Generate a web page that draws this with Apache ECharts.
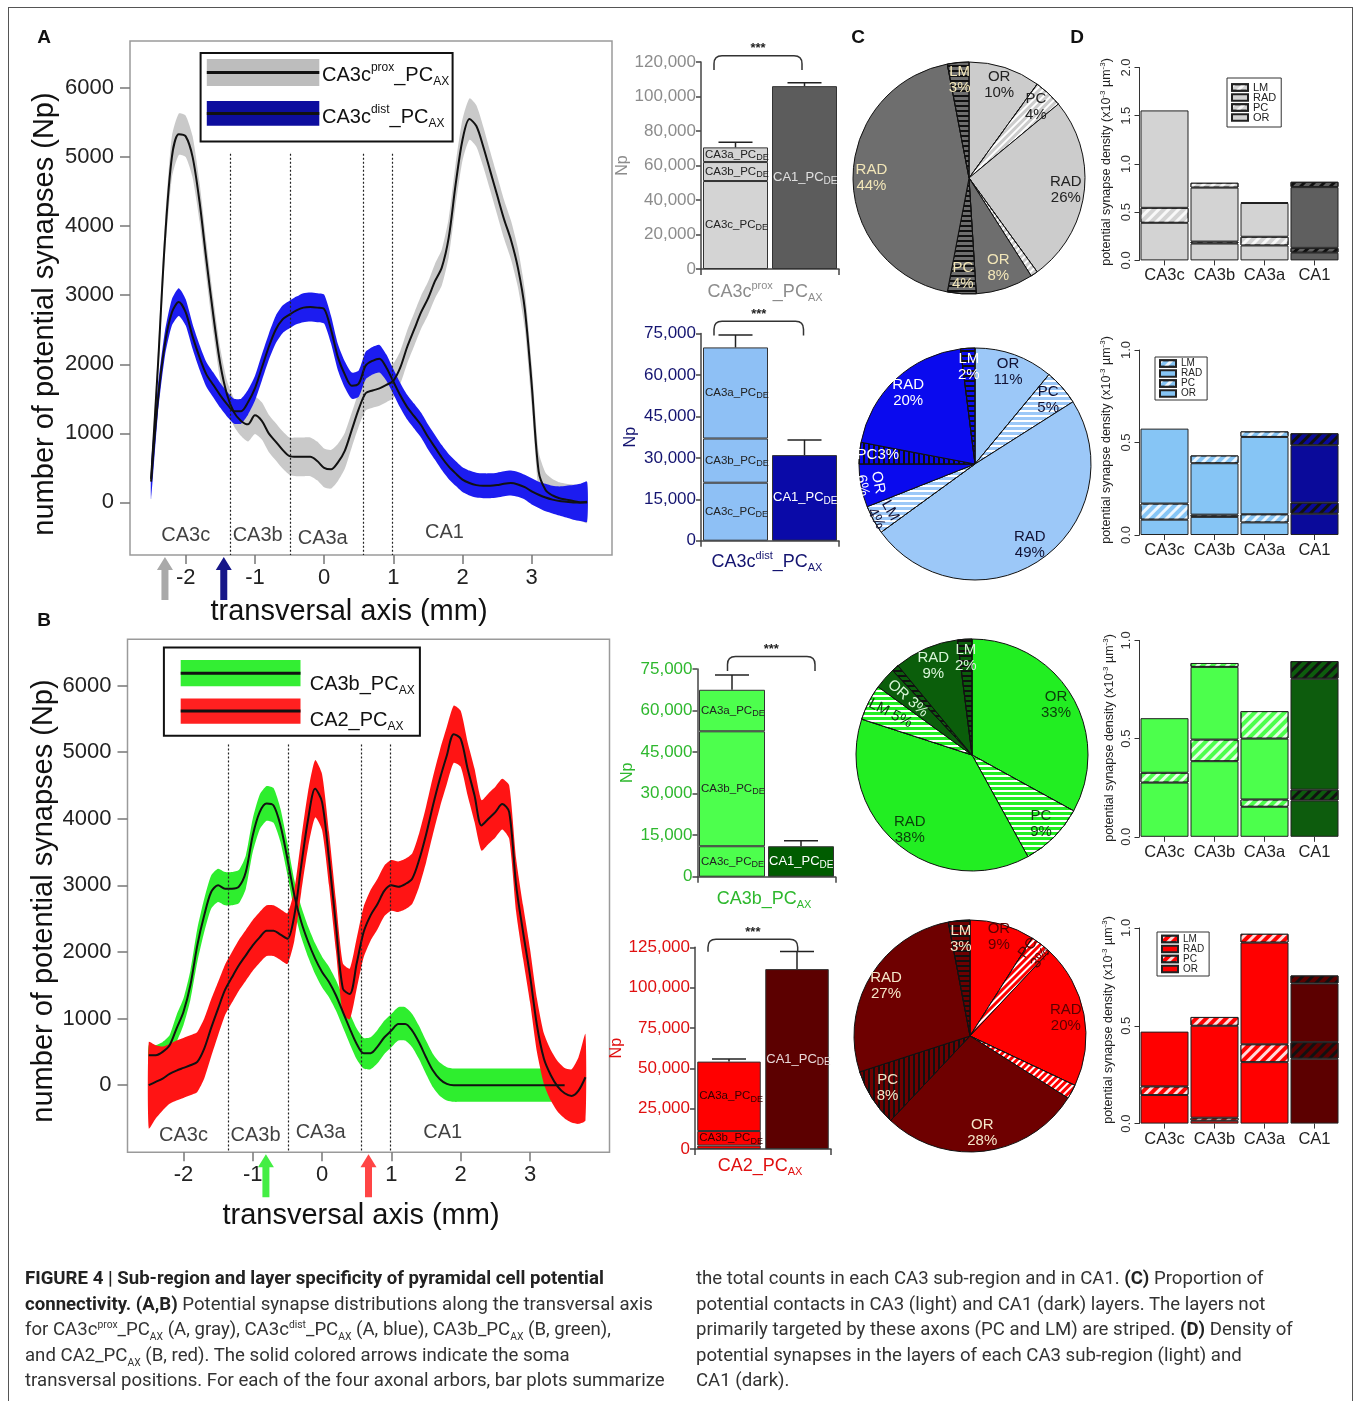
<!DOCTYPE html>
<html>
<head>
<meta charset="utf-8">
<script src="https://cdn.jsdelivr.net/npm/echarts@6/dist/echarts.min.js"></script>
<style>
  html, body { margin: 0; padding: 0; background: #fff; }
  #chart { position: absolute; left: 0; top: 0; width: 1356px; height: 1401px; }
  #frame { position: absolute; left: 8px; top: 7px; width: 1345px; height: 1420px; border: 1.5px solid #555; box-sizing: border-box; pointer-events: none; }
  .cap { position: absolute; top: 1265px; font-family: Roboto, sans-serif; font-size: 18px; line-height: 25.5px; color: #333; white-space: nowrap; transform-origin: 0 0; }
  .cap b { color: #222; }
  .cap sub, .cap sup { font-size: 10px; line-height: 0; }
</style>
</head>
<body>
<div id="chart"></div>
<div id="frame"></div>
<div class="cap" id="capL" style="left:25px">
  <div><b>FIGURE 4 | Sub-region and layer specificity of pyramidal cell potential</b></div>
  <div id="capRef"><b>connectivity. (A,B)</b> Potential synapse distributions along the transversal axis</div>
  <div>for CA3c<sup>prox</sup>_PC<sub>AX</sub> (A, gray), CA3c<sup>dist</sup>_PC<sub>AX</sub> (A, blue), CA3b_PC<sub>AX</sub> (B, green),</div>
  <div>and CA2_PC<sub>AX</sub> (B, red). The solid colored arrows indicate the soma</div>
  <div>transversal positions. For each of the four axonal arbors, bar plots summarize</div>
</div>
<div class="cap" id="capR" style="left:696px">
  <div>the total counts in each CA3 sub-region and in CA1. <b>(C)</b> Proportion of</div>
  <div>potential contacts in CA3 (light) and CA1 (dark) layers. The layers not</div>
  <div>primarily targeted by these axons (PC and LM) are striped. <b>(D)</b> Density of</div>
  <div>potential synapses in the layers of each CA3 sub-region (light) and</div>
  <div>CA1 (dark).</div>
</div>
<script>
var FONT = '"Liberation Sans", Arial, Helvetica, sans-serif';

// ---- A / B : distributions along the transversal axis ----
var transX = [-2.5, -2.4, -2.3, -2.2, -2.1, -2.0, -1.9, -1.8, -1.7, -1.6,
  -1.5, -1.4, -1.3, -1.2, -1.1, -1.0, -0.9, -0.8, -0.7, -0.6,
  -0.5, -0.4, -0.3, -0.2, -0.1, 0, 0.1, 0.2, 0.3, 0.4,
  0.5, 0.6, 0.7, 0.8, 0.9, 1.0, 1.1, 1.2, 1.3, 1.4,
  1.5, 1.6, 1.7, 1.8, 1.9, 2.0, 2.1, 2.2, 2.3, 2.4,
  2.5, 2.6, 2.7, 2.8, 2.9, 3.0, 3.1, 3.2, 3.3, 3.4,
  3.5, 3.6, 3.7, 3.8];
var proxMean = [340, 2000, 3800, 5000, 5330, 5300, 5000, 4350, 3500, 2700,
  2000, 1550, 1300, 1180, 1130, 1260, 1180, 1000, 880, 760,
  670, 660, 660, 660, 600, 500, 480, 580, 750, 1050,
  1350, 1580, 1620, 1650, 1700, 1760, 1950, 2250, 2500, 2750,
  2950, 3200, 3400, 3830, 4600, 5250, 5550, 5450, 5150, 4800,
  4450, 4100, 3800, 3400, 2800, 1700, 450, 180, 100, 60,
  40, 20, 0, 0];
var proxHalf = [100, 200, 250, 300, 300, 300, 300, 280, 260, 250,
  230, 200, 200, 220, 250, 270, 270, 270, 270, 270,
  270, 280, 280, 280, 280, 280, 280, 270, 260, 250,
  250, 250, 250, 250, 250, 250, 240, 240, 240, 240,
  240, 250, 260, 280, 300, 300, 300, 300, 290, 280,
  280, 280, 280, 280, 280, 300, 280, 250, 240, 230,
  230, 240, 260, 300];
var distMean = [300, 1500, 2300, 2750, 2900, 2750, 2400, 2100, 1850, 1700,
  1550, 1420, 1320, 1320, 1450, 1650, 1950, 2250, 2500, 2650,
  2720, 2780, 2820, 2830, 2820, 2800, 2500, 2100, 1850, 1690,
  1720, 1980, 2050, 2080, 1950, 1750, 1550, 1380, 1250, 1120,
  950, 800, 650, 520, 420, 330, 280, 250, 240, 240,
  250, 270, 280, 260, 220, 160, 110, 70, 40, 20,
  10, 0, 0, 10];
var distHalf = [250, 200, 180, 190, 200, 190, 180, 180, 180, 180,
  180, 180, 180, 180, 180, 180, 190, 190, 200, 200,
  200, 200, 210, 210, 210, 210, 200, 190, 190, 190,
  190, 200, 200, 200, 190, 180, 180, 180, 180, 180,
  180, 180, 180, 180, 180, 180, 180, 180, 180, 180,
  180, 180, 180, 180, 180, 190, 190, 200, 200, 210,
  230, 250, 270, 290];
var ca3bMean = [450, 450, 500, 600, 850, 1100, 1500, 2100, 2550, 2900,
  3000, 2950, 2950, 2980, 3200, 3750, 4100, 4230, 4200, 3900,
  3400, 2850, 2450, 2150, 1900, 1700, 1550, 1350, 1100, 850,
  620, 480, 480, 580, 720, 820, 920, 920, 820, 640,
  420, 220, 90, 20, 0, 0, 0, 0, 0, 0,
  0, 0, 0, 0, 0, 0, 0, 0, 0, 0,
  0, '-', '-', '-'];
var ca3bHalf = [150, 150, 150, 150, 200, 200, 220, 250, 250, 250,
  250, 250, 250, 250, 250, 250, 260, 260, 260, 250,
  240, 230, 230, 230, 230, 230, 230, 230, 230, 230,
  230, 230, 240, 250, 250, 250, 250, 250, 250, 250,
  250, 250, 250, 250, 250, 250, 250, 250, 250, 250,
  250, 250, 250, 250, 250, 250, 250, 250, 250, 250,
  250, 250, 250, 250];
var ca2Mean = [0, 50, 100, 170, 220, 260, 300, 350, 550, 860,
  1150, 1430, 1620, 1800, 1950, 2100, 2220, 2320, 2320, 2260,
  2200, 2550, 3300, 4000, 4450, 4250, 3400, 2400, 1450, 1370,
  1830, 2300, 2550, 2720, 2920, 3000, 2980, 3020, 3100, 3380,
  3760, 4200, 4600, 4950, 5270, 5200, 4750, 4350, 3900, 4000,
  4100, 4220, 4100, 3000, 2300, 1650, 900, 400, 150, -20,
  -120, -160, -80, 120];
var ca2Half = [650, 550, 480, 450, 450, 450, 450, 450, 450, 430,
  400, 380, 380, 380, 380, 380, 380, 380, 380, 380,
  380, 380, 400, 420, 430, 420, 400, 380, 380, 380,
  380, 380, 380, 380, 380, 380, 380, 380, 380, 400,
  420, 430, 430, 430, 430, 420, 400, 400, 380, 380,
  380, 380, 400, 400, 400, 400, 400, 380, 380, 380,
  380, 400, 500, 650];

var mmTicks = [-2, -1, 0, 1, 2, 3];
var npTicks = [0, 1000, 2000, 3000, 4000, 5000, 6000];
var regionNames = ['CA3c', 'CA3b', 'CA3a', 'CA1'];
var regionCenters = [-2.0, -0.96, -0.02, 1.74];
var regionBounds = [-1.35, -0.49, 0.57, 0.99];
var somaA = [-2.3, -1.45];
var somaB = [-0.81, 0.67];

// ---- bar plots: total counts (Np) ----
var subNames = ['CA3c', 'CA3b', 'CA3a'];
var proxCA3 = [51000, 11000, 8500], proxCA1 = 106000, proxErr = [73500, 108000];
var distCA3 = [21000, 16000, 33000], distCA1 = 31000, distErr = [74500, 36500];
var ca3bCA3 = [11000, 41500, 15000], ca3bCA1 = 11000, ca3bErr = [72800, 13000];
var ca2CA3 = [2200, 9000, 43000], ca2CA1 = 111500, ca2Err = [55800, 122400];

// ---- C : layer proportions (%) ----
var pieLayers = ['OR', 'PC', 'RAD', 'LM', 'OR', 'PC', 'RAD', 'LM'];
var proxPie = [10, 4, 26, 1, 8, 4, 44, 3];
var distPie = [11, 5, 49, 4, 6, 3, 20, 2];
var ca3bPie = [33, 9, 38, 5, 3, 1, 9, 2];
var ca2Pie = [9, 3, 20, 2, 28, 8, 27, 3];

// ---- D : layer densities (x10^-3 um^-3), segment heights per region ----
var densCats = ['CA3c', 'CA3b', 'CA3a', 'CA1'];
var densLayers = ['OR', 'PC', 'RAD', 'LM'];
var proxDens = [[0.39, 0.175, 0.155, 0.08], [0.155, 0.02, 0.09, 0.05], [1.01, 0.56, 0.35, 0.63], [0, 0.05, 0.01, 0.055]];
var distDens = [[0.083, 0.098, 0.068, 0.115], [0.087, 0.012, 0.044, 0.06], [0.405, 0.278, 0.418, 0.31], [0, 0.042, 0.03, 0.065]];
var ca3bDens = [[0.276, 0.385, 0.153, 0.185], [0.05, 0.11, 0.037, 0.055], [0.278, 0.37, 0.31, 0.565], [0, 0.02, 0.14, 0.09]];
var ca2Dens = [[0.146, 0.015, 0.314, 0.332], [0.044, 0.015, 0.091, 0.084], [0.28, 0.47, 0.52, 0.3], [0, 0.045, 0.045, 0.041]];

// ------------------------------------------------------------
function richSet(size, color, ratio) {
  var s = Math.round(size * (ratio || 0.6));
  return {
    m: { fontSize: size, color: color, fill: color, fontFamily: FONT, lineHeight: Math.round(size * 1.3), verticalAlign: 'middle' },
    sup: { fontSize: s, color: color, fill: color, fontFamily: FONT, lineHeight: s, verticalAlign: 'top' },
    sub: { fontSize: s, color: color, fill: color, fontFamily: FONT, lineHeight: s, verticalAlign: 'bottom' }
  };
}

function stripe(color, angle, w, gap) {
  return { symbol: 'rect', symbolSize: 1, dashArrayX: [1, 0], dashArrayY: [w, gap], rotation: angle, color: color };
}
var STRIPE = { d: -Math.PI / 4, h: 0, v: Math.PI / 2 };

// band (mean +- half) drawn as one polygon
function bandSeries(g, mean, half, color) {
  return {
    type: 'custom', xAxisIndex: g, yAxisIndex: g, silent: true, clip: false,
    data: [[transX[0], 0]],
    renderItem: function (params, api) {
      var up = [], lo = [];
      transX.forEach(function (x, i) {
        if (mean[i] === '-') return;
        up.push(api.coord([x, mean[i] + half[i]]));
        lo.unshift(api.coord([x, mean[i] - half[i]]));
      });
      return { type: 'polygon', shape: { points: up.concat(lo), smooth: 0.2 }, style: { fill: color } };
    }
  };
}

function meanLine(g, mean, marks, top, bottom) {
  var s = {
    type: 'line', xAxisIndex: g, yAxisIndex: g, symbol: 'none', smooth: 0.3, silent: true,
    lineStyle: { color: '#111', width: 2 },
    data: transX.map(function (x, i) { return [x, mean[i]]; })
  };
  if (marks) {
    s.markLine = {
      silent: true, symbol: ['none', 'none'], label: { show: false },
      lineStyle: { type: [2, 2], color: '#222', width: 1.2 },
      data: regionBounds.map(function (x) { return [{ coord: [x, top] }, { coord: [x, bottom] }]; })
    };
  }
  return s;
}

function regionSeries(g, ys) {
  return {
    type: 'scatter', xAxisIndex: g, yAxisIndex: g, symbolSize: 0, silent: true,
    label: { show: true, position: 'inside', formatter: '{b}', fontSize: 20, color: '#111', fontFamily: FONT },
    data: regionCenters.map(function (x, i) { return { name: regionNames[i], value: [x, ys[i]] }; })
  };
}

function arrowSeries(g, xs, colors) {
  return {
    type: 'custom', xAxisIndex: g, yAxisIndex: g, silent: true, clip: false,
    data: xs.map(function (x) { return [x, 0]; }),
    renderItem: function (params, api) {
      var x = api.coord([api.value(0), 0])[0];
      var y0 = params.coordSys.y + params.coordSys.height + 2;
      return {
        type: 'polygon',
        shape: { points: [[x, y0], [x + 8, y0 + 13], [x + 3.5, y0 + 13], [x + 3.5, y0 + 43], [x - 3.5, y0 + 43], [x - 3.5, y0 + 13], [x - 8, y0 + 13]] },
        style: { fill: colors[params.dataIndex] }
      };
    }
  };
}

function mmAxis(g, min, max) {
  return {
    gridIndex: g, type: 'value', min: min, max: max,
    axisLine: { show: false, onZero: false }, splitLine: { show: false },
    axisTick: { show: true, customValues: mmTicks, length: 9, lineStyle: { color: '#777', width: 1.5 } },
    axisLabel: { customValues: mmTicks, fontSize: 22, color: '#222', margin: 12, formatter: function (v) { return String(v); } }
  };
}
function npAxis(g, min, max) {
  return {
    gridIndex: g, type: 'value', min: min, max: max,
    axisLine: { show: false, onZero: false }, splitLine: { show: false },
    axisTick: { show: true, customValues: npTicks, length: 10, lineStyle: { color: '#777', width: 1.5 } },
    axisLabel: { customValues: npTicks, fontSize: 22, color: '#222', margin: 16, formatter: function (v) { return String(v); } }
  };
}

// ---- count bars ----
function countSeries(g, ca3, ca1, err, light, dark, txtCA3, txtCA1, bw) {
  var list = ca3.map(function (v, i) {
    return {
      type: 'bar', name: subNames[i], xAxisIndex: g, yAxisIndex: g, stack: 'n' + g, barWidth: bw, silent: true,
      itemStyle: { color: light, borderColor: '#333', borderWidth: 1 },
      label: { show: v > 5000, position: 'insideLeft', distance: 2, formatter: '{m|' + subNames[i] + '_PC}{sub|DE}', rich: richSet(11.5, txtCA3, 0.8) },
      data: [v, '-']
    };
  });
  list.push({
    type: 'bar', name: 'CA1', xAxisIndex: g, yAxisIndex: g, stack: 'n' + g, barWidth: bw, silent: true,
    itemStyle: { color: dark, borderColor: '#333', borderWidth: 1 },
    label: { show: true, position: 'insideLeft', distance: 1, formatter: '{m|CA1_PC}{sub|DE}', rich: richSet(13, txtCA1, 0.8) },
    data: ['-', ca1]
  });
  var total = ca3.reduce(function (a, b) { return a + b; }, 0);
  list.push({
    type: 'custom', xAxisIndex: g, yAxisIndex: g, silent: true, clip: false, z: 5,
    data: [[0, total, err[0]], [1, ca1, err[1]]],
    renderItem: function (params, api) {
      var p0 = api.coord([api.value(0), api.value(1)]);
      var p1 = api.coord([api.value(0), api.value(2)]);
      return {
        type: 'group', children: [
          { type: 'line', shape: { x1: p0[0], y1: p0[1], x2: p1[0], y2: p1[1] }, style: { stroke: '#222', lineWidth: 1.5 } },
          { type: 'line', shape: { x1: p1[0] - 17, y1: p1[1], x2: p1[0] + 17, y2: p1[1] }, style: { stroke: '#222', lineWidth: 1.5 } }
        ]
      };
    }
  });
  return list;
}

// significance bracket between the two bars
function bracketSeries(g, foot, top, dxL, dxR) {
  return {
    type: 'custom', xAxisIndex: g, yAxisIndex: g, silent: true, clip: false, z: 6,
    data: [[0, foot, top]],
    renderItem: function (params, api) {
      var a = api.coord([0, api.value(1)]), b = api.coord([1, api.value(1)]), t = api.coord([0, api.value(2)]);
      var xl = a[0] + dxL, xr = b[0] + dxR, yf = a[1], yt = t[1], r = 8;
      var d = 'M' + xl + ',' + yf + ' L' + xl + ',' + (yt + r) + ' Q' + xl + ',' + yt + ' ' + (xl + r) + ',' + yt +
        ' L' + (xr - r) + ',' + yt + ' Q' + xr + ',' + yt + ' ' + xr + ',' + (yt + r) + ' L' + xr + ',' + yf;
      return {
        type: 'group', children: [
          { type: 'path', shape: { pathData: d }, style: { stroke: '#333', fill: null, lineWidth: 1.5 } },
          { type: 'text', x: (xl + xr) / 2, y: yt - 7, style: { text: '***', align: 'center', verticalAlign: 'middle', fontSize: 13, fontWeight: 'bold', fontFamily: FONT, fill: '#222' } }
        ]
      };
    }
  };
}

function countXAxis(g) {
  return {
    gridIndex: g, type: 'category', data: ['CA3', 'CA1'],
    axisLine: { show: true, lineStyle: { color: '#444', width: 1.5 } },
    axisTick: { show: true, interval: function (i) { return i === 1; }, length: 6, lineStyle: { color: '#444', width: 1.5 } },
    axisLabel: { show: false }
  };
}
function countYAxis(g, max, step, color) {
  return {
    gridIndex: g, type: 'value', min: 0, max: max, interval: step,
    name: 'Np', nameLocation: 'middle', nameGap: 62, nameRotate: 90,
    nameTextStyle: { color: color, fontSize: 16, fontFamily: FONT },
    axisLine: { show: true, lineStyle: { color: '#444', width: 1.5 } },
    axisTick: { show: true, length: 5, lineStyle: { color: '#444', width: 1.5 } },
    splitLine: { show: false },
    axisLabel: { color: color, fontSize: 17, margin: 5, formatter: function (v) { return v.toLocaleString('en-US'); } }
  };
}

// ---- pies ----
// move 'inside' labels outward along their radius; thin slices get their own factor
function pushOut(center, k, special) {
  return function (p) {
    var f = special[p.dataIndex] || k;
    var r = p.labelRect;
    var cx = r.x + r.width / 2, cy = r.y + r.height / 2;
    return { x: center[0] + (cx - center[0]) * f, y: center[1] + (cy - center[1]) * f, align: 'center', verticalAlign: 'middle' };
  };
}
function pieSeries(vals, center, cols, txt, stripes, hide, turn, oneLine, special) {
  return {
    type: 'pie', center: center, radius: 116, startAngle: 90, clockwise: true, silent: true,
    labelLine: { show: false },
    label: { show: true, position: 'inside', formatter: '{b}\n{c}%', fontSize: 15, lineHeight: 16, fontFamily: FONT },
    labelLayout: pushOut(center, 1.6, special),
    itemStyle: { borderColor: '#111', borderWidth: 1 },
    data: vals.map(function (v, i) {
      var dark = i >= 4;
      var item = { name: pieLayers[i], value: v, itemStyle: { color: dark ? cols[1] : cols[0] }, label: { color: dark ? txt[1] : txt[0] } };
      if (stripes[i]) item.itemStyle.decal = stripe(dark ? '#111' : '#fff', STRIPE[stripes[i]], 2, 3);
      if (hide.indexOf(i) >= 0) item.label.show = false;
      if (turn[i]) item.label.rotate = turn[i];
      if (oneLine[i]) item.label.formatter = oneLine[i];
      return item;
    })
  };
}

// ---- density bars ----
function densSeries(g, layers, light, dark, k) {
  return layers.map(function (vals, i) {
    var striped = densLayers[i] === 'PC' || densLayers[i] === 'LM';
    var st = { color: light, borderColor: '#222', borderWidth: 1 };
    if (striped) st.decal = stripe('rgba(255,255,255,0.85)', -Math.PI / 4, 3, 4);
    return {
      type: 'bar', name: densLayers[i] + '|' + k, xAxisIndex: g, yAxisIndex: g, stack: 'd' + g, barWidth: 48, silent: true,
      itemStyle: st,
      data: vals.map(function (v, j) {
        if (!v) return '-';
        if (j < 3) return v;
        var ds = { color: dark };
        if (striped) ds.decal = stripe('#111', -Math.PI / 4, 3, 4);
        return { value: v, itemStyle: ds };
      })
    };
  });
}
function densXAxis(g) {
  return {
    gridIndex: g, type: 'category', data: densCats,
    axisLine: { show: false },
    axisTick: { show: true, alignWithLabel: true, length: 5, lineStyle: { color: '#333' } },
    axisLabel: { interval: 0, fontSize: 16.5, color: '#222', margin: 7 }
  };
}
function densYAxis(g, max) {
  return {
    gridIndex: g, type: 'value', min: 0, max: max, interval: 0.5,
    axisLine: { show: true, lineStyle: { color: '#333' } },
    axisTick: { show: true, length: 5, lineStyle: { color: '#333' } },
    splitLine: { show: false },
    axisLabel: { rotate: 90, fontSize: 13, color: '#333', margin: 7, formatter: function (v) { return v.toFixed(1); } }
  };
}
function densLegend(k, left, top, gap, pad, fs) {
  return {
    data: ['LM', 'RAD', 'PC', 'OR'].map(function (n) { return n + '|' + k; }),
    orient: 'vertical', left: left, top: top, icon: 'rect', itemWidth: 16, itemHeight: 6.5, itemGap: gap,
    padding: pad, borderColor: '#333', borderWidth: 1, backgroundColor: '#fff', selectedMode: false,
    formatter: function (n) { return n.split('|')[0]; },
    textStyle: { fontSize: fs, color: '#222', fontFamily: FONT }
  };
}

// ---- text helpers for graphic ----
function label(x, y, text, size, extra, weight) {
  var el = { type: 'text', x: x, y: y, silent: true, style: { text: text, fontSize: size, fontWeight: weight || 'normal', fill: '#111', fontFamily: FONT, align: 'center', verticalAlign: 'middle' } };
  for (var k in (extra || {})) el[k] = extra[k];
  return el;
}
function richLabel(x, y, text, size, color, align, extra) {
  var el = { type: 'text', x: x, y: y, silent: true, style: { text: text, rich: richSet(size, color), fill: color, align: align || 'center', verticalAlign: 'middle' } };
  for (var k in (extra || {})) el[k] = extra[k];
  return el;
}
function legendBand(x, y, w, h, color) {
  return [
    { type: 'rect', silent: true, shape: { x: x, y: y, width: w, height: h }, style: { fill: color } },
    { type: 'line', silent: true, shape: { x1: x, y1: y + h / 2, x2: x + w, y2: y + h / 2 }, style: { stroke: '#111', lineWidth: 3 } }
  ];
}

var densTitle = '{m|potential synapse density (x10}{sup|-3}{m| µm}{sup|-3}{m|)}';
var ROT = { rotation: Math.PI / 2 };

var graphic = [
  label(44, 38, 'A', 19, null, 'bold'),
  label(44, 621, 'B', 19, null, 'bold'),
  label(858, 38, 'C', 19, null, 'bold'),
  label(1077, 38, 'D', 19, null, 'bold'),
  label(45, 314, 'number of potential synapses (Np)', 29, ROT),
  label(349, 612, 'transversal axis (mm)', 29),
  label(44, 901, 'number of potential synapses (Np)', 29, ROT),
  label(361, 1216, 'transversal axis (mm)', 29),
  // legend A
  { type: 'rect', silent: true, shape: { x: 200.6, y: 53, width: 252, height: 88.4 }, style: { fill: '#fff', stroke: '#111', lineWidth: 2 } }
].concat(legendBand(206.8, 58.9, 112.5, 27.2, '#bdbdbd'), legendBand(206.8, 101, 112.5, 24.8, '#0d0d9e'), [
  richLabel(322, 75, '{m|CA3c}{sup|prox}{m|_PC}{sub|AX}', 20, '#111', 'left'),
  richLabel(322, 117, '{m|CA3c}{sup|dist}{m|_PC}{sub|AX}', 20, '#111', 'left'),
  // legend B
  { type: 'rect', silent: true, shape: { x: 163.9, y: 647.4, width: 256, height: 88.4 }, style: { fill: '#fff', stroke: '#111', lineWidth: 2 } }
], legendBand(180.7, 660, 119.8, 26.3, '#33ee33'), legendBand(180.7, 698.4, 119.8, 25.3, '#ff2020'), [
  richLabel(309.7, 684, '{m|CA3b_PC}{sub|AX}', 20, '#111', 'left'),
  richLabel(309.7, 720, '{m|CA2_PC}{sub|AX}', 20, '#111', 'left'),
  // bar plot titles
  richLabel(765, 292, '{m|CA3c}{sup|prox}{m|_PC}{sub|AX}', 18, '#8c8c8c'),
  richLabel(767, 562, '{m|CA3c}{sup|dist}{m|_PC}{sub|AX}', 18, '#141470'),
  richLabel(764, 899, '{m|CA3b_PC}{sub|AX}', 18, '#2eb82e'),
  richLabel(760, 1166, '{m|CA2_PC}{sub|AX}', 18, '#e01010'),
  // density titles
  richLabel(1107, 162, densTitle, 12.5, '#222', 'center', ROT),
  richLabel(1107, 440, densTitle, 12.5, '#222', 'center', ROT),
  richLabel(1110, 738, densTitle, 12.5, '#222', 'center', ROT),
  richLabel(1109, 1020, densTitle, 12.5, '#222', 'center', ROT)
]);

function G(o) { var r = { outerBoundsMode: 'none' }; for (var k in o) r[k] = o[k]; return r; }

var series = [].concat(
  // A
  bandSeries(0, proxMean, proxHalf, '#c9c9c9'),
  bandSeries(0, distMean, distHalf, '#1c1cf0'),
  meanLine(0, proxMean, true, 5050, -762),
  meanLine(0, distMean, false),
  regionSeries(0, [-480, -480, -520, -430]),
  arrowSeries(0, somaA, ['#a9a9a9', '#161688']),
  // B
  bandSeries(1, ca3bMean, ca3bHalf, '#2eee2e'),
  bandSeries(1, ca2Mean, ca2Half, '#ff1414'),
  meanLine(1, ca3bMean, true, 5115, -1007),
  meanLine(1, ca2Mean, false),
  regionSeries(1, [-755, -755, -705, -705]),
  arrowSeries(1, somaB, ['#44ee44', '#ff4545']),
  // counts
  countSeries(2, proxCA3, proxCA1, proxErr, '#d4d4d4', '#5c5c5c', '#222', '#e0e0e0', 65),
  countSeries(3, distCA3, distCA1, distErr, '#8ec0f5', '#0a0aa8', '#222', '#ffffff', 65),
  countSeries(4, ca3bCA3, ca3bCA1, ca3bErr, '#4dff4d', '#005c00', '#222', '#ffffff', 66),
  countSeries(5, ca2CA3, ca2CA1, ca2Err, '#ff0000', '#5c0000', '#300', '#e8d8d8', 63.5),
  bracketSeries(2, 115400, 123600, -21.5, -2.5),
  bracketSeries(3, 74350, 79500, -21.5, -1),
  bracketSeries(4, 74300, 79500, -4.5, 14),
  bracketSeries(5, 122300, 130000, -21, 0.7),
  // pies
  pieSeries(proxPie, [969, 178], ['#cccccc', '#6e6e6e'], ['#222', '#f2e6b8'], [null, 'd', null, 'd', null, 'h', null, 'h'],
    [3], {}, {}, { 7: 1.62, 4: 1.55 }),
  pieSeries(distPie, [975, 464], ['#9cc8f8', '#0a0aee'], ['#111133', '#ffffff'], [null, 'h', null, 'h', null, 'v', null, 'h'],
    [], { 3: 'tangential', 4: 'tangential' }, { 5: '{b}{c}%' }, { 3: 1.72, 4: 1.75, 7: 1.6 }),
  pieSeries(ca3bPie, [972, 755], ['#22ee22', '#0b5e0b'], ['#0b3d0b', '#d8f5d8'], [null, 'h', null, 'h', null, 'h', null, 'h'],
    [5], { 3: 'radial', 4: 'radial' }, { 3: '{b} {c}%', 4: '{b} {c}%' }, { 3: 1.5, 4: 1.4, 7: 1.6 }),
  pieSeries(ca2Pie, [970, 1036], ['#ff0000', '#6e0000'], ['#5c0000', '#f5e6c8'], [null, 'd', null, 'd', null, 'v', null, 'h'],
    [3], { 1: 'radial' }, {}, { 0: 1.7, 1: 1.72, 7: 1.6 }),
  // densities
  densSeries(6, proxDens, '#d3d3d3', '#5f5f5f', 0),
  densSeries(7, distDens, '#86c5f5', '#0a0a9a', 1),
  densSeries(8, ca3bDens, '#4cff4c', '#0d5c0d', 2),
  densSeries(9, ca2Dens, '#ff0000', '#5c0000', 3)
);

var option = {
  animation: false,
  backgroundColor: '#fff',
  textStyle: { fontFamily: FONT },
  grid: [
    G({ left: 130, top: 41, width: 482, height: 514, show: true, borderColor: '#9a9a9a', borderWidth: 1.5, backgroundColor: 'transparent' }),
    G({ left: 127.5, top: 639.3, width: 482, height: 513, show: true, borderColor: '#9a9a9a', borderWidth: 1.5, backgroundColor: 'transparent' }),
    G({ left: 701, top: 62, width: 138, height: 207 }),
    G({ left: 701, top: 333.6, width: 138, height: 207.1 }),
    G({ left: 697.5, top: 669, width: 138, height: 207.7 }),
    G({ left: 695, top: 947.3, width: 136, height: 201.8 }),
    G({ left: 1139.5, top: 67.5, width: 200, height: 192.9 }),
    G({ left: 1139.5, top: 350, width: 200, height: 185 }),
    G({ left: 1139.5, top: 640.4, width: 200, height: 196.4 }),
    G({ left: 1139.5, top: 927.9, width: 200, height: 195.7 })
  ],
  xAxis: [
    mmAxis(0, -2.805, 4.16), mmAxis(1, -2.807, 4.147),
    countXAxis(2), countXAxis(3), countXAxis(4), countXAxis(5),
    densXAxis(6), densXAxis(7), densXAxis(8), densXAxis(9)
  ],
  yAxis: [
    npAxis(0, -762, 6681), npAxis(1, -1007, 6694),
    countYAxis(2, 120000, 20000, '#8c8c8c'),
    countYAxis(3, 75000, 15000, '#141470'),
    countYAxis(4, 75000, 15000, '#2eb82e'),
    countYAxis(5, 125000, 25000, '#e01010'),
    densYAxis(6, 2.0), densYAxis(7, 1.0), densYAxis(8, 1.0), densYAxis(9, 1.0)
  ],
  legend: [
    densLegend(0, 1227, 78, -1, [4, 5, 4, 4], 11),
    densLegend(1, 1155, 357, 0, [1.5, 5, 1.5, 4], 10),
    densLegend(3, 1157, 932, 0, [2, 5, 2, 4], 10)
  ],
  series: series,
  graphic: graphic
};

var chart = echarts.init(document.getElementById('chart'));
chart.setOption(option);

// fit caption columns to the figure width
var ref = document.getElementById('capRef');
var sx = 640 / ref.scrollWidth;
document.getElementById('capL').style.transform = 'scaleX(' + sx + ')';
document.getElementById('capR').style.transform = 'scaleX(' + sx + ')';
</script>
</body>
</html>
